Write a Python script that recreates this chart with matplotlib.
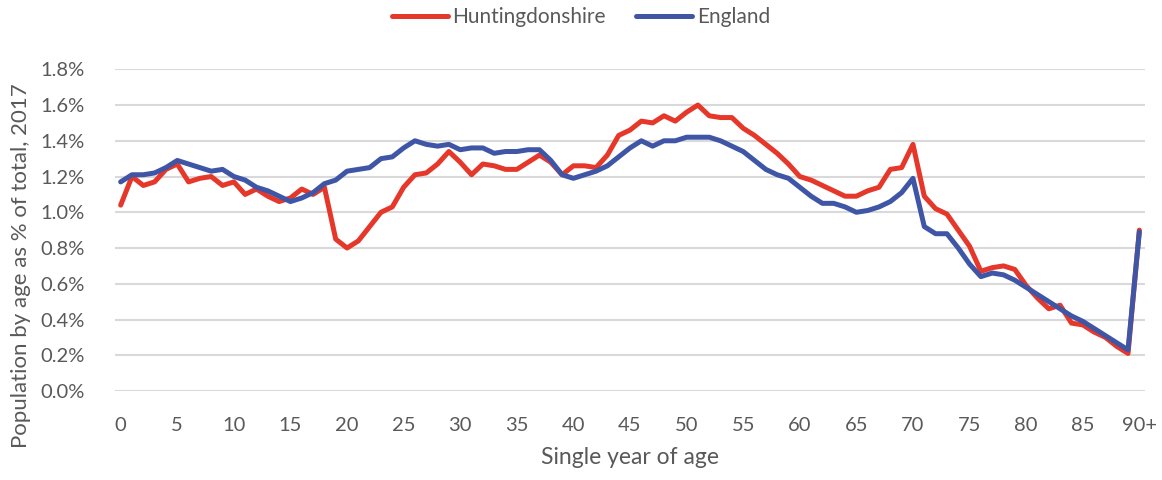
import matplotlib
matplotlib.use("Agg")
import matplotlib.pyplot as plt
from matplotlib.ticker import FuncFormatter, MultipleLocator

plt.rcParams['font.family'] = ['Lato', 'DejaVu Sans']

ages = list(range(91))
age_tick_labels = ['0', '5', '10', '15', '20', '25', '30', '35', '40', '45',
                   '50', '55', '60', '65', '70', '75', '80', '85', '90+']

# Share of total population at each single year of age (%), 2017
huntingdonshire = [
    1.04, 1.20, 1.15, 1.17, 1.24, 1.27, 1.17, 1.19, 1.20, 1.15,
    1.17, 1.10, 1.13, 1.09, 1.06, 1.08, 1.13, 1.10, 1.14, 0.85,
    0.80, 0.84, 0.92, 1.00, 1.03, 1.14, 1.21, 1.22, 1.27, 1.34,
    1.28, 1.21, 1.27, 1.26, 1.24, 1.24, 1.28, 1.32, 1.28, 1.21,
    1.26, 1.26, 1.25, 1.32, 1.43, 1.46, 1.51, 1.50, 1.54, 1.51,
    1.56, 1.60, 1.54, 1.53, 1.53, 1.47, 1.43, 1.38, 1.33, 1.27,
    1.20, 1.18, 1.15, 1.12, 1.09, 1.09, 1.12, 1.14, 1.24, 1.25,
    1.38, 1.09, 1.02, 0.99, 0.90, 0.81, 0.67, 0.69, 0.70, 0.68,
    0.59, 0.52, 0.46, 0.48, 0.38, 0.37, 0.33, 0.30, 0.25, 0.21,
    0.90,
]
england = [
    1.17, 1.21, 1.21, 1.22, 1.25, 1.29, 1.27, 1.25, 1.23, 1.24,
    1.20, 1.18, 1.14, 1.12, 1.09, 1.06, 1.08, 1.11, 1.16, 1.18,
    1.23, 1.24, 1.25, 1.30, 1.31, 1.36, 1.40, 1.38, 1.37, 1.38,
    1.35, 1.36, 1.36, 1.33, 1.34, 1.34, 1.35, 1.35, 1.29, 1.21,
    1.19, 1.21, 1.23, 1.26, 1.31, 1.36, 1.40, 1.37, 1.40, 1.40,
    1.42, 1.42, 1.42, 1.40, 1.37, 1.34, 1.29, 1.24, 1.21, 1.19,
    1.14, 1.09, 1.05, 1.05, 1.03, 1.00, 1.01, 1.03, 1.06, 1.11,
    1.19, 0.92, 0.88, 0.88, 0.80, 0.71, 0.64, 0.66, 0.65, 0.62,
    0.58, 0.54, 0.50, 0.46, 0.42, 0.39, 0.35, 0.31, 0.27, 0.23,
    0.89,
]

RED = '#E6382A'
BLUE = '#3F56A6'
TEXT = '#595959'
GRID = '#D9D9D9'

fig = plt.figure(figsize=(11.62, 4.80), dpi=100)
ax = fig.add_axes([115 / 1162, 1 - 391 / 480, 1030 / 1162, (391 - 69.3) / 480])

ax.plot(ages, huntingdonshire, color=RED, lw=3.6, label='Huntingdonshire',
        solid_joinstyle='round', solid_capstyle='round', zorder=3)
ax.plot(ages, england, color=BLUE, lw=3.6, label='England',
        solid_joinstyle='round', solid_capstyle='round', zorder=4)

ax.set_xlim(-0.5, 90.5)
ax.set_ylim(0, 1.8)
ax.yaxis.set_major_locator(MultipleLocator(0.2))
ax.yaxis.set_major_formatter(FuncFormatter(lambda v, _: f'{v:.1f}%'))
ax.set_xticks(list(range(0, 91, 5)))
ax.set_xticklabels(age_tick_labels)

ax.grid(axis='y', color=GRID, lw=1.5, zorder=0)
ax.set_axisbelow(True)
for side in ['top', 'right', 'left', 'bottom']:
    ax.spines[side].set_visible(False)
ax.tick_params(axis='both', length=0, labelsize=14.5, labelcolor=TEXT)
ax.tick_params(axis='y', pad=22)
ax.tick_params(axis='x', pad=19)

ax.set_xlabel('Single year of age', fontsize=16.5, color=TEXT, labelpad=9)
ax.set_ylabel('Population by age as % of total, 2017', fontsize=16,
              color=TEXT)
ax.yaxis.set_label_coords(-0.082, 0.39)

fig.legend(loc='center', bbox_to_anchor=(0.5, 1 - 17 / 480), ncol=2,
           frameon=False, fontsize=15, labelcolor=TEXT, handlelength=2.7,
           handletextpad=0.2, columnspacing=1.45)

fig.savefig('out.png', dpi=100, facecolor='white')
